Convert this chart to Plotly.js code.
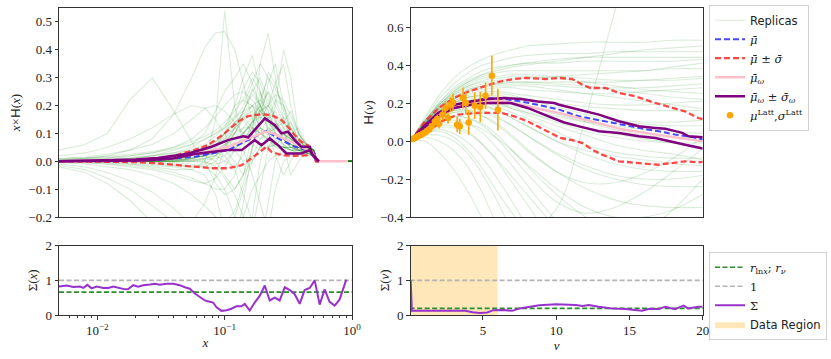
<!DOCTYPE html>
<html><head><meta charset="utf-8">
<script src="https://cdn.plot.ly/plotly-3.0.1.min.js"></script>
<style>body{margin:0;background:#fff}#chart{width:831px;height:359px}</style>
</head><body><div id="chart"></div>
<script>
// ---------------- DATA ----------------
const xRepGrid = [0.005, 0.008, 0.012, 0.018, 0.027, 0.04, 0.055, 0.07, 0.085, 0.1, 0.12, 0.14, 0.165, 0.19, 0.22, 0.25, 0.29, 0.33, 0.38, 0.44, 0.5, 0.53, 0.7, 1.0];
const leftReplicas = [
  [0.04,0.06,0.1,0.22,0.3,0.18,0.07,0.0,-0.08,-0.12,-0.1,-0.05,0.0,0.05,0.08,0.07,0.05,0.04,0.03,0.03,0.02,0,0,0],
  [0.005,0.01,0.02,0.04,0.08,0.17,0.3,0.41,0.46,0.465,0.4,0.28,0.15,0.1,0.08,0.06,0.05,0.04,0.04,0.03,0.02,0,0,0],
  [0,0,-0.005,-0.01,-0.02,-0.03,-0.03,0.0,0.15,0.54,0.2,0.06,0.12,0.25,0.18,0.1,0.08,0.05,0.06,0.04,0.03,0,0,0],
  [0,0,0,0.005,0.01,0.02,0.03,0.05,0.06,0.04,0.0,-0.05,0.1,0.35,0.46,0.3,0.15,0.08,0.05,0.04,0.03,0,0,0],
  [0,0,0,0,-0.005,-0.01,-0.02,-0.02,0.0,0.05,0.1,0.15,0.2,0.12,0.1,0.2,0.4,0.3,0.1,0.05,0.03,0,0,0],
  [0,0.005,0.01,0.015,0.02,0.04,0.06,0.1,0.18,0.25,0.3,0.35,0.28,0.2,0.15,0.1,0.08,0.06,0.05,0.05,0.04,0,0,0],
  [0,0,0.005,0.01,0.02,0.03,0.05,0.08,0.1,0.12,0.2,0.22,0.3,0.25,0.15,0.18,0.12,0.08,0.06,0.05,0.04,0,0,0],
  [-0.02,-0.04,-0.08,-0.14,-0.22,-0.32,-0.4,-0.45,-0.45,-0.4,-0.3,-0.2,-0.1,-0.05,0.0,0.02,0.03,0.03,0.02,0.02,0.02,0,0,0],
  [-0.01,-0.02,-0.04,-0.07,-0.11,-0.17,-0.23,-0.28,-0.3,-0.28,-0.2,-0.1,0.0,0.05,0.08,0.05,0.04,0.03,0.03,0.02,0.02,0,0,0],
  [-0.005,-0.01,-0.02,-0.03,-0.05,-0.08,-0.12,-0.16,-0.2,-0.22,-0.18,-0.08,0.05,0.12,0.1,0.06,0.05,0.04,0.03,0.03,0.02,0,0,0],
  [0,-0.005,-0.01,-0.015,-0.025,-0.04,-0.06,-0.08,-0.1,-0.1,-0.05,0.05,0.15,0.2,0.12,0.08,0.06,0.04,0.04,0.03,0.02,0,0,0],
  [0,0,-0.005,-0.01,-0.015,-0.02,-0.03,-0.05,-0.12,-0.25,-0.3,-0.15,0.05,0.18,0.25,0.15,0.08,0.05,0.04,0.03,0.03,0,0,0],
  [0,0,0,0,0,-0.005,-0.01,-0.02,-0.05,-0.1,-0.2,-0.35,-0.2,0.0,0.1,0.12,0.1,0.06,0.05,0.04,0.03,0,0,0],
  [0.01,0.015,0.025,0.04,0.06,0.1,0.15,0.19,0.2,0.18,0.14,0.1,0.06,0.04,0.05,0.06,0.05,0.05,0.04,0.04,0.03,0,0,0],
  [0.02,0.03,0.05,0.08,0.12,0.17,0.2,0.19,0.15,0.1,0.04,0.0,0.02,0.08,0.12,0.1,0.08,0.06,0.05,0.04,0.03,0,0,0],
  [0.005,0.008,0.012,0.02,0.03,0.05,0.08,0.12,0.16,0.2,0.24,0.25,0.22,0.18,0.14,0.12,0.1,0.08,0.06,0.05,0.04,0,0,0],
  [0,0,0.005,0.01,0.015,0.025,0.04,0.06,0.09,0.12,0.15,0.2,0.28,0.35,0.3,0.22,0.15,0.1,0.07,0.05,0.04,0,0,0],
  [0,0,0,0.005,0.01,0.015,0.02,0.03,0.05,0.08,0.12,0.18,0.25,0.3,0.22,0.15,0.1,0.07,0.05,0.04,0.03,0,0,0],
  [0,0,0,0,0.005,0.01,0.02,0.03,0.02,0.0,-0.02,0.02,0.1,0.2,0.32,0.28,0.18,0.12,0.08,0.05,0.04,0,0,0],
  [0,0,0,0,0,0.005,0.01,0.02,0.04,0.06,0.1,0.16,0.18,0.12,0.05,0.08,0.12,0.14,0.08,0.05,0.04,0,0,0],
  [0,0,0,-0.005,-0.01,-0.015,-0.02,-0.01,0.02,0.06,0.12,0.18,0.24,0.2,0.15,0.22,0.2,0.12,0.06,0.05,0.04,0,0,0],
  [0,0,0,0,0,0,0,0.01,0.03,0.05,0.06,0.04,-0.05,-0.15,-0.25,-0.1,0.0,0.02,0.03,0.03,0.03,0,0,0],
  [0,0,0,0,0.005,0.01,0.02,0.04,0.06,0.08,0.1,0.12,0.12,0.1,0.08,0.1,0.06,-0.05,0.0,0.03,0.03,0,0,0],
  [0.01,0.012,0.018,0.025,0.035,0.05,0.07,0.09,0.11,0.14,0.18,0.22,0.2,0.15,0.28,0.35,0.2,0.1,0.06,0.04,0.03,0,0,0],
  [-0.015,-0.03,-0.06,-0.1,-0.16,-0.22,-0.22,-0.15,-0.05,0.05,0.12,0.15,0.1,0.05,0.05,0.06,0.05,0.05,0.04,0.04,0.03,0,0,0],
  [0,0,0,0,0,0,0.01,0.02,0.05,0.1,0.2,0.3,0.38,0.25,0.1,0.05,0.1,0.08,0.05,0.04,0.03,0,0,0],
  [0,0,0,0,0,0.005,0.01,0.02,0.0,-0.05,-0.1,-0.05,0.05,0.15,0.2,0.28,0.35,0.2,0.1,0.06,0.04,0,0,0],
  [0,0,0,0,0.005,0.01,0.02,0.04,0.07,0.1,0.14,0.17,0.2,0.22,0.18,0.12,0.1,0.08,0.06,0.05,0.04,0,0,0],
  [0,0,0,0,0,0.005,0.01,0.02,0.03,0.05,0.08,0.12,0.16,0.2,0.25,0.2,0.14,0.1,0.07,0.05,0.04,0,0,0],
  [0,0,0,0.005,0.01,0.015,0.025,0.04,0.06,0.09,0.12,0.1,0.14,0.18,0.15,0.12,0.16,0.12,0.07,0.05,0.04,0,0,0],
  [0,0,0,0,0,0,0.005,0.01,0.02,0.04,0.07,0.1,0.13,0.22,0.3,0.26,0.2,0.14,0.08,0.06,0.04,0,0,0],
  [0,0,0.005,0.01,0.02,0.03,0.04,0.05,0.07,0.1,0.14,0.16,0.12,0.08,0.1,0.14,0.1,0.06,0.05,0.04,0.03,0,0,0],
  [0,0,0,0,0,0,0,0,-0.02,-0.06,-0.12,-0.2,-0.25,-0.1,0.05,0.1,0.06,0.04,0.04,0.03,0.03,0,0,0],
  [0,0,0,0,0,0,0.005,0.01,0.02,0.05,0.1,0.18,0.26,0.2,0.1,0.02,-0.05,0.0,0.04,0.04,0.03,0,0,0],
  [0.005,0.01,0.015,0.02,0.03,0.045,0.06,0.08,0.1,0.13,0.16,0.18,0.2,0.18,0.2,0.16,0.12,0.09,0.06,0.05,0.04,0,0,0],
  [0,0,0,0,0,0.005,0.01,0.02,0.04,0.06,0.08,0.1,0.14,0.18,0.2,0.24,0.22,0.16,0.1,0.06,0.04,0,0,0],
  [0,0,0,0,0,0,0,-0.005,-0.01,0.0,0.04,0.08,0.12,0.1,0.16,0.12,0.08,0.1,0.12,0.06,0.04,0,0,0],
  [0,0,0,0,0,0,0.01,0.03,0.06,0.1,0.16,0.26,0.32,0.28,0.2,0.14,0.08,0.05,0.04,0.04,0.03,0,0,0],
  [0,-0.005,-0.01,-0.02,-0.03,-0.05,-0.07,-0.08,-0.06,-0.02,0.04,0.1,0.14,0.16,0.14,0.1,0.08,0.06,0.05,0.04,0.03,0,0,0],
  [0,0,0,0,0.005,0.01,0.015,0.02,0.03,0.02,-0.03,-0.12,-0.22,-0.3,-0.15,0.0,0.05,0.05,0.04,0.04,0.03,0,0,0],
  [0,0,0,0,0,0,0,0.005,0.01,0.02,0.05,0.09,0.1,0.12,0.1,0.12,0.14,0.18,0.1,0.06,0.04,0,0,0]
];
const xMuUpX = [0.005,0.01,0.02,0.031,0.042,0.058,0.074,0.1,0.127,0.153,0.195,0.233,0.279,0.314,0.355,0.4,0.45,0.485,0.52,0.55];
const xMuUpY = [0.0,0.001,0.005,0.012,0.022,0.04,0.058,0.1,0.142,0.162,0.169,0.166,0.148,0.124,0.094,0.07,0.058,0.04,0.0,0.0];
const xMuLoX = [0.005,0.01,0.02,0.031,0.042,0.058,0.079,0.106,0.136,0.162,0.195,0.213,0.233,0.279,0.355,0.45,0.49,0.525,0.55];
const xMuLoY = [0.0,-0.001,-0.003,-0.008,-0.014,-0.018,-0.025,-0.025,-0.014,0.01,0.04,0.052,0.034,0.022,0.019,0.022,0.028,0.0,0.0];
const xMuX = [0.005,0.01,0.02,0.03,0.04,0.058,0.106,0.153,0.213,0.262,0.355,0.45,0.51,0.53,0.55];
const xMuY = [0.0,0.0,0.002,0.005,0.009,0.016,0.04,0.076,0.109,0.082,0.052,0.04,0.028,0.0,0.0];
const xMuWX = [0.005,0.01,0.02,0.03,0.04,0.058,0.106,0.172,0.207,0.24,0.296,0.355,0.45,0.485,0.525,0.55,0.93];
const xMuWY = [0.0,0.001,0.004,0.009,0.014,0.025,0.052,0.09,0.106,0.1,0.082,0.064,0.04,0.034,0.005,0.0,0.0];
const xMuWUpX = [0.005,0.01,0.02,0.03,0.04,0.05,0.058,0.079,0.106,0.14,0.153,0.207,0.247,0.279,0.314,0.355,0.4,0.466,0.485,0.525,0.55];
const xMuWUpY = [0.0,0.002,0.006,0.012,0.019,0.026,0.034,0.052,0.076,0.09,0.086,0.154,0.13,0.1,0.106,0.076,0.052,0.052,0.028,0.01,0.0];
const xMuWLoX = [0.005,0.01,0.02,0.03,0.04,0.058,0.106,0.136,0.172,0.195,0.226,0.262,0.305,0.4,0.466,0.49,0.525,0.55];
const xMuWLoY = [0.0,0.0,0.002,0.006,0.011,0.026,0.04,0.04,0.076,0.058,0.082,0.058,0.028,0.028,0.04,0.022,0.005,0.0];
const sigX = [0.0050,0.00574,0.00648,0.00731,0.00776,0.00834,0.00902,0.00987,0.01114,0.01219,0.01334,0.01504,0.01647,0.01749,0.01914,0.02094,0.02291,0.02588,0.02831,0.03097,0.03491,0.03945,0.04446,0.04864,0.05321,0.05834,0.06383,0.06982,0.07638,0.0811,0.0863,0.09441,0.1033,0.113,0.1236,0.1355,0.1439,0.1574,0.1722,0.1884,0.2065,0.2259,0.2472,0.2704,0.2965,0.3243,0.3548,0.3882,0.4246,0.4656,0.5093,0.5572,0.6095,0.6668,0.7311,0.7998,0.9016];
const sigXVal = [0.82,0.85,0.81,0.82,0.78,0.87,0.77,0.82,0.78,0.78,0.82,0.78,0.74,0.75,0.86,0.82,0.86,0.88,0.9,0.87,0.9,0.9,0.86,0.8,0.76,0.62,0.52,0.42,0.38,0.36,0.22,0.12,0.14,0.18,0.25,0.25,0.32,0.13,0.36,0.55,0.85,0.42,0.5,0.42,0.8,0.72,0.6,0.32,0.72,0.78,1.0,0.3,0.74,0.38,0.27,0.45,1.02];
const rLnx = 0.66;
const oneLine = 1.0;

const nuRepGrid = [0.07, 1, 2, 3, 4, 5, 6, 7, 8, 10, 12, 14, 16, 18, 20];
const rightReplicas = [
  [0,0.12,0.24,0.33,0.39,0.43,0.46,0.48,0.5,0.51,0.52,0.52,0.52,0.53,0.53],
  [0,0.11,0.22,0.3,0.36,0.4,0.42,0.44,0.45,0.46,0.46,0.47,0.47,0.47,0.47],
  [0,0.1,0.2,0.28,0.33,0.37,0.39,0.4,0.41,0.41,0.42,0.42,0.42,0.42,0.43],
  [0,0.1,0.19,0.26,0.31,0.34,0.36,0.37,0.37,0.37,0.37,0.37,0.37,0.38,0.38],
  [0,0.09,0.18,0.25,0.3,0.33,0.34,0.35,0.35,0.34,0.33,0.32,0.32,0.32,0.33],
  [0,0.09,0.17,0.23,0.27,0.29,0.3,0.3,0.3,0.29,0.28,0.28,0.28,0.29,0.3],
  [0,0.09,0.17,0.22,0.25,0.26,0.26,0.25,0.24,0.22,0.2,0.19,0.19,0.2,0.21],
  [0,0.08,0.16,0.21,0.24,0.25,0.25,0.24,0.22,0.18,0.14,0.11,0.1,0.1,0.11],
  [0,0.08,0.15,0.2,0.23,0.24,0.23,0.21,0.19,0.14,0.1,0.06,0.03,0.02,0.02],
  [0,0.08,0.15,0.19,0.21,0.21,0.2,0.18,0.15,0.1,0.05,0.02,0.0,-0.01,-0.01],
  [0,0.07,0.14,0.18,0.2,0.2,0.18,0.15,0.12,0.05,-0.02,-0.06,-0.08,-0.09,-0.09],
  [0,0.07,0.13,0.17,0.18,0.18,0.16,0.12,0.08,0.0,-0.07,-0.12,-0.15,-0.16,-0.16],
  [0,0.07,0.13,0.16,0.17,0.16,0.13,0.08,0.03,-0.07,-0.15,-0.2,-0.23,-0.24,-0.24],
  [0,0.06,0.12,0.15,0.15,0.13,0.09,0.03,-0.04,-0.16,-0.25,-0.31,-0.34,-0.35,-0.35],
  [0,0.06,0.11,0.13,0.12,0.09,0.03,-0.05,-0.13,-0.28,-0.4,-0.48,-0.52,-0.53,-0.52],
  [0,0.06,0.1,0.11,0.09,0.04,-0.04,-0.13,-0.23,-0.42,-0.56,-0.64,-0.68,-0.69,-0.68],
  [0,0.05,0.08,0.08,0.05,-0.02,-0.11,-0.22,-0.33,-0.55,-0.7,-0.8,-0.85,-0.86,-0.85],
  [0,0.04,0.06,0.04,-0.01,-0.09,-0.2,-0.32,-0.45,-0.7,-0.9,-1.0,-1.05,-1.05,-1.0],
  [0,0.03,0.03,0.0,-0.07,-0.18,-0.32,-0.48,-0.64,-0.9,-1.1,-1.2,-1.2,-1.2,-1.2],
  [0,0.02,0.0,-0.05,-0.14,-0.28,-0.45,-0.62,-0.8,-1.1,-1.3,-1.4,-1.4,-1.4,-1.4],
  [0,0.0,-0.06,-0.15,-0.27,-0.42,-0.6,-0.8,-1.0,-1.3,-1.5,-1.6,-1.6,-1.6,-1.6],
  [0,0.06,0.11,0.13,0.12,0.08,0.01,-0.08,-0.17,-0.32,-0.38,-0.35,-0.27,-0.16,-0.04],
  [0,0.07,0.13,0.16,0.16,0.13,0.08,0.02,-0.05,-0.16,-0.22,-0.22,-0.17,-0.09,0.02],
  [0,0.04,0.05,0.02,-0.05,-0.15,-0.27,-0.38,-0.47,-0.36,0.12,0.68,1.2,1.7,2.1],
  [0,0.09,0.18,0.24,0.28,0.3,0.31,0.31,0.31,0.3,0.29,0.27,0.25,0.23,0.22],
  [0,0.1,0.19,0.25,0.29,0.31,0.32,0.33,0.33,0.34,0.35,0.36,0.37,0.39,0.41],
  [0,0.08,0.16,0.21,0.23,0.23,0.22,0.2,0.18,0.15,0.12,0.1,0.09,0.08,0.08],
  [0,0.08,0.15,0.2,0.22,0.22,0.21,0.19,0.17,0.13,0.1,0.08,0.06,0.05,0.04],
  [0,0.09,0.17,0.22,0.26,0.27,0.28,0.28,0.27,0.26,0.25,0.25,0.26,0.27,0.28],
  [0,0.07,0.14,0.19,0.21,0.21,0.2,0.17,0.14,0.08,0.03,-0.02,-0.05,-0.07,-0.1],
  [0,0.08,0.15,0.19,0.2,0.19,0.16,0.12,0.08,0.0,-0.05,-0.08,-0.1,-0.12,-0.13],
  [0,0.1,0.2,0.27,0.32,0.35,0.37,0.39,0.4,0.42,0.44,0.46,0.48,0.49,0.5],
  [0,0.09,0.18,0.24,0.29,0.32,0.33,0.34,0.34,0.33,0.31,0.29,0.27,0.26,0.25],
  [0,0.08,0.16,0.22,0.26,0.28,0.29,0.29,0.29,0.27,0.25,0.23,0.21,0.19,0.17],
  [0,0.09,0.17,0.23,0.27,0.29,0.3,0.31,0.31,0.31,0.31,0.31,0.32,0.33,0.34],
  [0,0.1,0.19,0.26,0.31,0.35,0.38,0.4,0.41,0.43,0.44,0.44,0.44,0.44,0.44],
  [0,0.08,0.15,0.2,0.23,0.24,0.24,0.23,0.22,0.2,0.18,0.17,0.16,0.16,0.16],
  [0,0.07,0.14,0.18,0.2,0.2,0.19,0.17,0.15,0.11,0.07,0.04,0.01,-0.01,-0.03],
  [0,0.05,0.09,0.1,0.09,0.06,0.01,-0.05,-0.12,-0.25,-0.35,-0.4,-0.4,-0.36,-0.28],
  [0,0.06,0.12,0.15,0.16,0.15,0.12,0.08,0.03,-0.06,-0.13,-0.18,-0.2,-0.2,-0.18],
  [0,0.04,0.07,0.07,0.04,-0.02,-0.1,-0.19,-0.28,-0.45,-0.55,-0.55,-0.48,-0.36,-0.2]
];
const nuMuUpX = [0.07,1.0,2.0,3.0,4.0,5.0,6.0,7.0,7.94,9.3,10.2,11.1,11.8,12.35,13.37,14.28,15.41,16.76,17.9,18.8,19.7,20];
const nuMuUpY = [0.0,0.1,0.175,0.225,0.26,0.285,0.31,0.325,0.332,0.326,0.332,0.326,0.296,0.279,0.279,0.253,0.235,0.2,0.174,0.156,0.121,0.115];
const nuMuLoX = [0.07,1.48,2.06,2.61,3.29,4.65,6.23,7.14,8.05,8.95,9.86,10.3,11.1,11.8,12.47,13.14,14.28,15.41,16.3,17.0,17.9,18.8,19.7,20];
const nuMuLoY = [0.0,0.06,0.1,0.116,0.139,0.148,0.148,0.13,0.104,0.068,0.033,0.016,0.004,-0.011,-0.046,-0.072,-0.107,-0.116,-0.121,-0.125,-0.116,-0.107,-0.112,-0.11];
const nuMuX = [0.07,1,2,3,4.2,5.33,6.47,7.6,8.73,9.86,10.2,11.56,12.92,14.28,15.64,17,18.1,19,19.84,20];
const nuMuY = [0.005,0.075,0.14,0.185,0.21,0.226,0.221,0.208,0.191,0.174,0.165,0.13,0.109,0.086,0.069,0.051,0.034,0.025,0.01,0.008];
const nuMuWX = [0.07,1,2,3,4.2,5.33,6.47,7.6,8.73,9.86,10.2,12.4,14.6,16.8,19.84,20];
const nuMuWY = [0.005,0.075,0.135,0.18,0.2,0.208,0.208,0.19,0.174,0.156,0.147,0.103,0.06,0.034,-0.001,-0.002];
const nuMuWUpX = [0.07,1.0,1.93,3.06,4.2,5.33,6.47,7.6,8.73,9.86,10.2,11.56,12.92,14.28,15.64,16.77,17.45,18.13,18.6,19.05,19.84,20];
const nuMuWUpY = [0.005,0.08,0.147,0.191,0.208,0.221,0.226,0.221,0.208,0.2,0.191,0.165,0.139,0.104,0.078,0.069,0.064,0.052,0.043,0.025,0.022,0.02];
const nuMuWLoX = [0.07,1.0,1.93,3.06,4.2,5.33,6.9,8.05,9.18,10.1,10.5,11.56,12.92,14.28,15.64,16.77,17.9,18.8,19.84,20];
const nuMuWLoY = [0.005,0.07,0.129,0.174,0.191,0.2,0.2,0.174,0.139,0.113,0.099,0.077,0.051,0.042,0.025,0.016,-0.002,-0.02,-0.037,-0.04];
const lattNu  = [0.21,0.35,0.48,0.62,0.75,0.9,1.04,1.18,1.33,1.5,1.72,1.88,2.01,2.24,2.45,2.62,2.79,2.96,3.24,3.42,3.64,3.83,4.03,4.44,4.82,5.18,5.61,6.02];
const lattVal = [0.01,0.016,0.021,0.027,0.032,0.038,0.045,0.052,0.06,0.077,0.103,0.116,0.091,0.138,0.174,0.121,0.191,0.203,0.086,0.077,0.226,0.2,0.098,0.186,0.179,0.238,0.344,0.165];
const lattErr = [0.004,0.005,0.006,0.006,0.007,0.008,0.009,0.01,0.012,0.015,0.02,0.022,0.025,0.03,0.035,0.03,0.04,0.045,0.04,0.04,0.055,0.06,0.065,0.07,0.08,0.07,0.105,0.11];
const sigNu = [0.07,0.15,1,2,3,3.8,4.3,4.8,5.3,5.7,6.4,7.0,7.5,8.0,8.85,10.0,10.66,11.33,11.8,12.24,12.9,13.8,14.73,15.86,16.3,17.0,17.45,18.1,18.7,19.0,19.7,20];
const sigNuVal = [1.0,0.12,0.12,0.115,0.12,0.12,0.08,0.06,0.075,0.14,0.145,0.12,0.19,0.22,0.28,0.31,0.31,0.29,0.26,0.29,0.24,0.19,0.17,0.125,0.17,0.17,0.24,0.17,0.27,0.19,0.24,0.24];
const rNu = 0.19;
const dataRegion = [0, 6];

const xLogRange = [Math.log10(0.005), 0];
const xEnds = [0.005, 1.0];
const nuRange = [0.07, 20];
const nuEnds = [0.0, 20.5];
const yTopLeftTicks = [-0.2,-0.1,0.0,0.1,0.2,0.3,0.4,0.5];
const yTopRightTicks = [-0.4,-0.2,0.0,0.2,0.4,0.6];
const ySigTicks = [0,1,2];
const xLogTicks = [0.01, 0.1, 1];
const xLogTickText = ['10<sup>−2</sup>','10<sup>−1</sup>','10<sup>0</sup>'];
const xLogMinor = [0.006,0.007,0.008,0.009,0.02,0.03,0.04,0.05,0.06,0.07,0.08,0.09,0.2,0.3,0.4,0.5,0.6,0.7,0.8,0.9];
const nuTicks = [5,10,15,20];

// ---------------- STYLE ----------------
const SERIF = 'Liberation Serif, DejaVu Serif, serif';
const LEGSERIF = 'DejaVu Serif, serif';
const repColor = 'rgba(0,128,0,0.15)';
const cBlue = 'rgba(40,40,255,0.85)';
const cRed = 'rgba(255,40,40,0.85)';
const cPink = '#ffc0cb';
const cPurple = '#800080';
const cOrange = '#ffa500';
const cSig = '#9932cc';
const cGreen = '#2a8f2a';
const cGray = '#b4b4b4';
const fmt = v => (v < 0 ? '−' : '') + Math.abs(v).toFixed(1);
const sans = t => '<span style="font-family:DejaVu Sans">' + t + '</span>';

const traces = [];
leftReplicas.forEach((r) => traces.push({
  x: xRepGrid, y: r, xaxis: 'x', yaxis: 'y', mode: 'lines',
  line: {color: repColor, width: 1.1}, showlegend: false, hoverinfo: 'skip'
}));
rightReplicas.forEach((r, i) => traces.push({
  x: nuRepGrid, y: r, xaxis: 'x2', yaxis: 'y2', mode: 'lines',
  line: {color: repColor, width: 1.1, shape: 'spline', smoothing: 1.0},
  name: sans('Replicas'), legendgroup: 'rep', showlegend: i === 0, legend: 'legend', hoverinfo: 'skip'
}));
function addPair(xa, ya, X, Y, color, width, dash, name, group, show) {
  traces.push({x: X, y: Y, xaxis: xa, yaxis: ya, mode: 'lines',
    line: {color: color, width: width, dash: dash}, name: name,
    legendgroup: group, showlegend: show, legend: 'legend'});
}
const nMu = '<i>μ̄</i>';
const nMuSig = '<i>μ̄</i> ± <i>σ̄</i>';
const nMuW = '<i>μ̄</i><sub><i>ω</i></sub>';
const nMuWSig = '<i>μ̄</i><sub><i>ω</i></sub> ± <i>σ̄</i><sub><i>ω</i></sub>';
addPair('x','y', xMuX, xMuY, cBlue, 2, '6px,3px', nMu, 'mu', false);
addPair('x2','y2', nuMuX, nuMuY, cBlue, 2, '6px,3px', nMu, 'mu', true);
addPair('x','y', xMuUpX, xMuUpY, cRed, 2.3, '6px,3px', nMuSig, 'musig', false);
addPair('x','y', xMuLoX, xMuLoY, cRed, 2.3, '6px,3px', nMuSig, 'musig', false);
addPair('x2','y2', nuMuUpX, nuMuUpY, cRed, 2.3, '6px,3px', nMuSig, 'musig', true);
addPair('x2','y2', nuMuLoX, nuMuLoY, cRed, 2.3, '6px,3px', nMuSig, 'musig', false);
addPair('x','y', xMuWX, xMuWY, cPink, 2.5, 'solid', nMuW, 'muw', false);
addPair('x2','y2', nuMuWX, nuMuWY, cPink, 2.5, 'solid', nMuW, 'muw', true);
addPair('x','y', xMuWUpX, xMuWUpY, cPurple, 2.5, 'solid', nMuWSig, 'muwsig', false);
addPair('x','y', xMuWLoX, xMuWLoY, cPurple, 2.5, 'solid', nMuWSig, 'muwsig', false);
addPair('x2','y2', nuMuWUpX, nuMuWUpY, cPurple, 2.5, 'solid', nMuWSig, 'muwsig', true);
addPair('x2','y2', nuMuWLoX, nuMuWLoY, cPurple, 2.5, 'solid', nMuWSig, 'muwsig', false);
traces.push({x: lattNu, y: lattVal, xaxis: 'x2', yaxis: 'y2', mode: 'markers',
  marker: {color: cOrange, size: 6.5},
  error_y: {type: 'data', array: lattErr, visible: true, color: cOrange, thickness: 1.6, width: 0},
  name: '<i>μ</i><sup>Latt</sup>,<i>σ</i><sup>Latt</sup>', legend: 'legend'});

traces.push({x: [dataRegion[0], dataRegion[1], dataRegion[1], dataRegion[0], dataRegion[0]],
  y: [ySigTicks[0], ySigTicks[0], ySigTicks[2], ySigTicks[2], ySigTicks[0]],
  xaxis: 'x4', yaxis: 'y4', mode: 'lines', fill: 'toself', fillcolor: 'rgba(255,165,0,0.27)',
  line: {width: 0, color: 'rgba(255,165,0,0.27)'}, name: sans('Data Region'),
  legend: 'legend2', legendrank: 4, hoverinfo: 'skip'});
function hline(xa, ya, ends, val, color, name, show, rank) {
  traces.push({x: ends, y: [val, val], xaxis: xa, yaxis: ya, mode: 'lines',
    line: {color: color, width: 1.6, dash: '5px,2.5px'}, name: name, legendgroup: name,
    showlegend: show, legend: 'legend2', legendrank: rank});
}
const nR = '<i>r</i><sub>ln<i>x</i></sub>; <i>r</i><sub><i>ν</i></sub>';
hline('x3','y3', xEnds, oneLine, cGray, '1', false, 2);
hline('x4','y4', nuEnds, oneLine, cGray, '1', true, 2);
hline('x3','y3', xEnds, rLnx, cGreen, nR, false, 1);
hline('x4','y4', nuEnds, rNu, cGreen, nR, true, 1);
traces.push({x: sigX, y: sigXVal, xaxis: 'x3', yaxis: 'y3', mode: 'lines',
  line: {color: cSig, width: 2}, name: 'Σ', legendgroup: 'sig', showlegend: false, legend: 'legend2', legendrank: 3});
traces.push({x: sigNu, y: sigNuVal, xaxis: 'x4', yaxis: 'y4', mode: 'lines',
  line: {color: cSig, width: 2}, name: 'Σ', legendgroup: 'sig', showlegend: true, legend: 'legend2', legendrank: 3});

// ---------------- LAYOUT ----------------
const W = 831, H = 359;
const dx = (a, b) => [a / W, b / W];
const dy = (top, bot) => [1 - bot / H, 1 - top / H];
const axBase = {showline: true, mirror: true, linecolor: '#333', linewidth: 1, zeroline: false,
  showgrid: false, ticks: 'outside', ticklen: 3.5, tickcolor: '#333', tickwidth: 1,
  tickfont: {family: SERIF, size: 13, color: '#222'}};
const titleFont = {family: SERIF, size: 13, color: '#222'};
const legBase = {xanchor: 'left', yanchor: 'top', bgcolor: '#fff',
  bordercolor: '#d0d0d0', borderwidth: 1, font: {family: LEGSERIF, size: 11.5, color: '#222'},
  tracegroupgap: 0, itemwidth: 30, traceorder: 'normal'};
const layout = {
  width: W, height: H, margin: {l: 0, r: 0, t: 0, b: 0}, paper_bgcolor: '#fff', plot_bgcolor: '#fff',
  font: {family: SERIF, color: '#222'},
  xaxis: Object.assign({}, axBase, {type: 'log', range: xLogRange, domain: dx(59, 352), anchor: 'y',
    showticklabels: false, ticks: ''}),
  yaxis: Object.assign({}, axBase, {range: [-0.2, 0.55], domain: dy(8, 217), anchor: 'x',
    tickvals: yTopLeftTicks, ticktext: yTopLeftTicks.map(fmt),
    title: {text: '<i>x</i>×' + sans('H') + '(<i>x</i>)', font: titleFont, standoff: 4}}),
  xaxis2: Object.assign({}, axBase, {range: nuRange, domain: dx(410.7, 702.7), anchor: 'y2',
    showticklabels: false, ticks: ''}),
  yaxis2: Object.assign({}, axBase, {range: [-0.4, 0.7], domain: dy(8, 217), anchor: 'x2',
    tickvals: yTopRightTicks, ticktext: yTopRightTicks.map(fmt),
    title: {text: sans('H') + '(<i>ν</i>)', font: titleFont, standoff: 3}}),
  xaxis3: Object.assign({}, axBase, {type: 'log', range: xLogRange, domain: dx(59, 352), anchor: 'y3',
    tickvals: xLogTicks, ticktext: xLogTickText,
    minor: {tickmode: 'array', tickvals: xLogMinor, ticks: 'outside', ticklen: 2, tickcolor: '#333'},
    title: {text: '<i>x</i>', font: titleFont, standoff: 0}}),
  yaxis3: Object.assign({}, axBase, {range: [0, 2], domain: dy(245.7, 315), anchor: 'x3',
    tickvals: ySigTicks, title: {text: 'Σ(<i>x</i>)', font: titleFont, standoff: 4}}),
  xaxis4: Object.assign({}, axBase, {range: nuRange, domain: dx(410.7, 702.7), anchor: 'y4',
    tickvals: nuTicks, title: {text: '<i>ν</i>', font: titleFont, standoff: 0}}),
  yaxis4: Object.assign({}, axBase, {range: [0, 2], domain: dy(245.7, 315), anchor: 'x4',
    tickvals: ySigTicks, title: {text: 'Σ(<i>ν</i>)', font: titleFont, standoff: 4}}),
  legend: Object.assign({}, legBase, {x: 709 / W, y: 1 - 4.7 / H}),
  legend2: Object.assign({}, legBase, {x: 709 / W, y: 1 - 251.7 / H}),
  showlegend: true
};
Plotly.newPlot('chart', traces, layout, {staticPlot: true, displayModeBar: false});
</script></body></html>
